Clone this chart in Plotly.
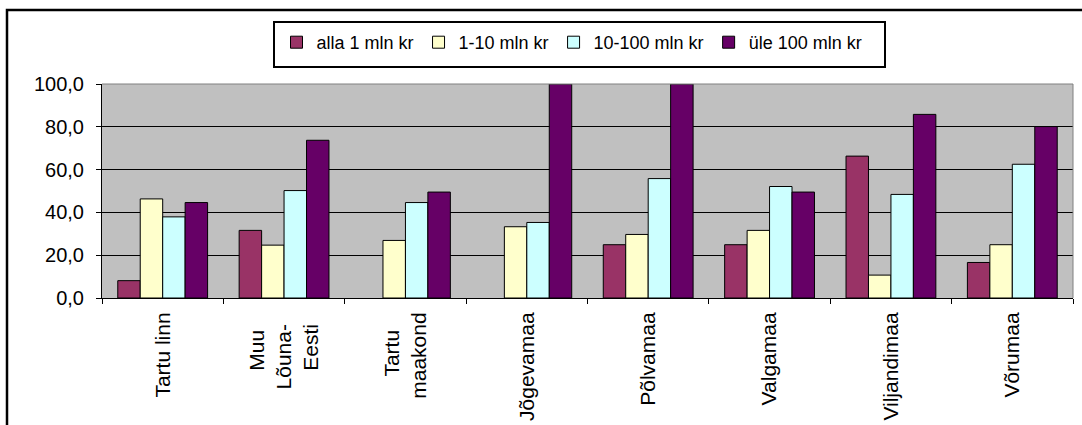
import plotly.graph_objects as go

NB = "\u00a0"
categories = ["Tartu linn",
              "Muu" + NB * 3 + "<br>Lõuna-" + NB * 2 + "<br>Eesti" + NB * 2,
              "Tartu" + NB * 3 + "<br>maakond",
              "Jõgevamaa", "Põlvamaa", "Valgamaa", "Viljandimaa", "Võrumaa"]
series_names = ["alla 1 mln kr", "1-10 mln kr", "10-100 mln kr", "üle 100 mln kr"]
alla_1 = [8.1, 31.6, None, None, 24.9, 24.9, 66.3, 16.6]
mln_1_10 = [46.3, 24.7, 26.9, 33.3, 29.7, 31.6, 10.7, 24.9]
mln_10_100 = [37.9, 50.2, 44.6, 35.3, 55.8, 52.1, 48.4, 62.5]
yle_100 = [44.6, 73.7, 49.5, 100.0, 100.0, 49.5, 85.8, 80.1]
colors = ["#993366", "#FFFFCC", "#CCFFFF", "#660066"]

W, H = 1082, 425
L, R, T, B = 102, 9, 84, 127
pw, ph = W - L - R, H - T - B


def px(x):
    return (x - L) / pw


def py(y):
    return (H - B - y) / ph


fig = go.Figure()
for name, vals, col in zip(series_names, [alla_1, mln_1_10, mln_10_100, yle_100], colors):
    fig.add_trace(go.Bar(x=categories, y=vals, name=name,
                         marker=dict(color=col, line=dict(color="black", width=1))))

fig.update_layout(
    width=W, height=H,
    margin=dict(l=L, r=R, t=T, b=B, autoexpand=False),
    paper_bgcolor="white", plot_bgcolor="#C0C0C0",
    barmode="group", bargap=0.26, bargroupgap=0,
    separators=",.",
    font=dict(family="Liberation Sans, Arial, sans-serif", size=20, color="black"),
    legend=dict(orientation="h", x=px(572), xanchor="center", y=py(42.5), yanchor="middle",
                bgcolor="rgba(0,0,0,0)", borderwidth=0,
                font=dict(size=18), itemwidth=30, traceorder="normal"),
    shapes=[
        # outer chart frame
        dict(type="rect", xref="paper", yref="paper",
             x0=px(7), x1=1.2, y0=-1.0, y1=py(10),
             line=dict(color="black", width=2.5), fillcolor="rgba(0,0,0,0)"),
        # legend box
        dict(type="rect", xref="paper", yref="paper",
             x0=px(274), x1=px(885), y0=py(67), y1=py(22),
             line=dict(color="black", width=2), fillcolor="white", layer="below"),
        # plot-area top and right borders (grey)
        dict(type="line", xref="paper", yref="paper", x0=0, x1=1, y0=1, y1=1,
             line=dict(color="#808080", width=1)),
        dict(type="line", xref="paper", yref="paper", x0=1, x1=1, y0=0, y1=1,
             line=dict(color="#808080", width=1)),
    ],
)
fig.update_yaxes(range=[0, 100], tickvals=[0, 20, 40, 60, 80, 100], tickformat=".1f",
                 showgrid=True, gridcolor="black", gridwidth=1,
                 showline=True, linecolor="black", linewidth=1,
                 ticks="outside", ticklen=5, tickcolor="black", zeroline=False,
                 ticklabelstandoff=8, automargin=False)
fig.update_xaxes(tickangle=-90, showline=True, linecolor="black", linewidth=1,
                 ticks="outside", tickson="boundaries", ticklen=5, tickcolor="black",
                 ticklabelstandoff=5, tickfont=dict(size=21), automargin=False)

fig.write_html("out.html", post_script="document.body.style.margin='0';",
               config={"displayModeBar": False})
